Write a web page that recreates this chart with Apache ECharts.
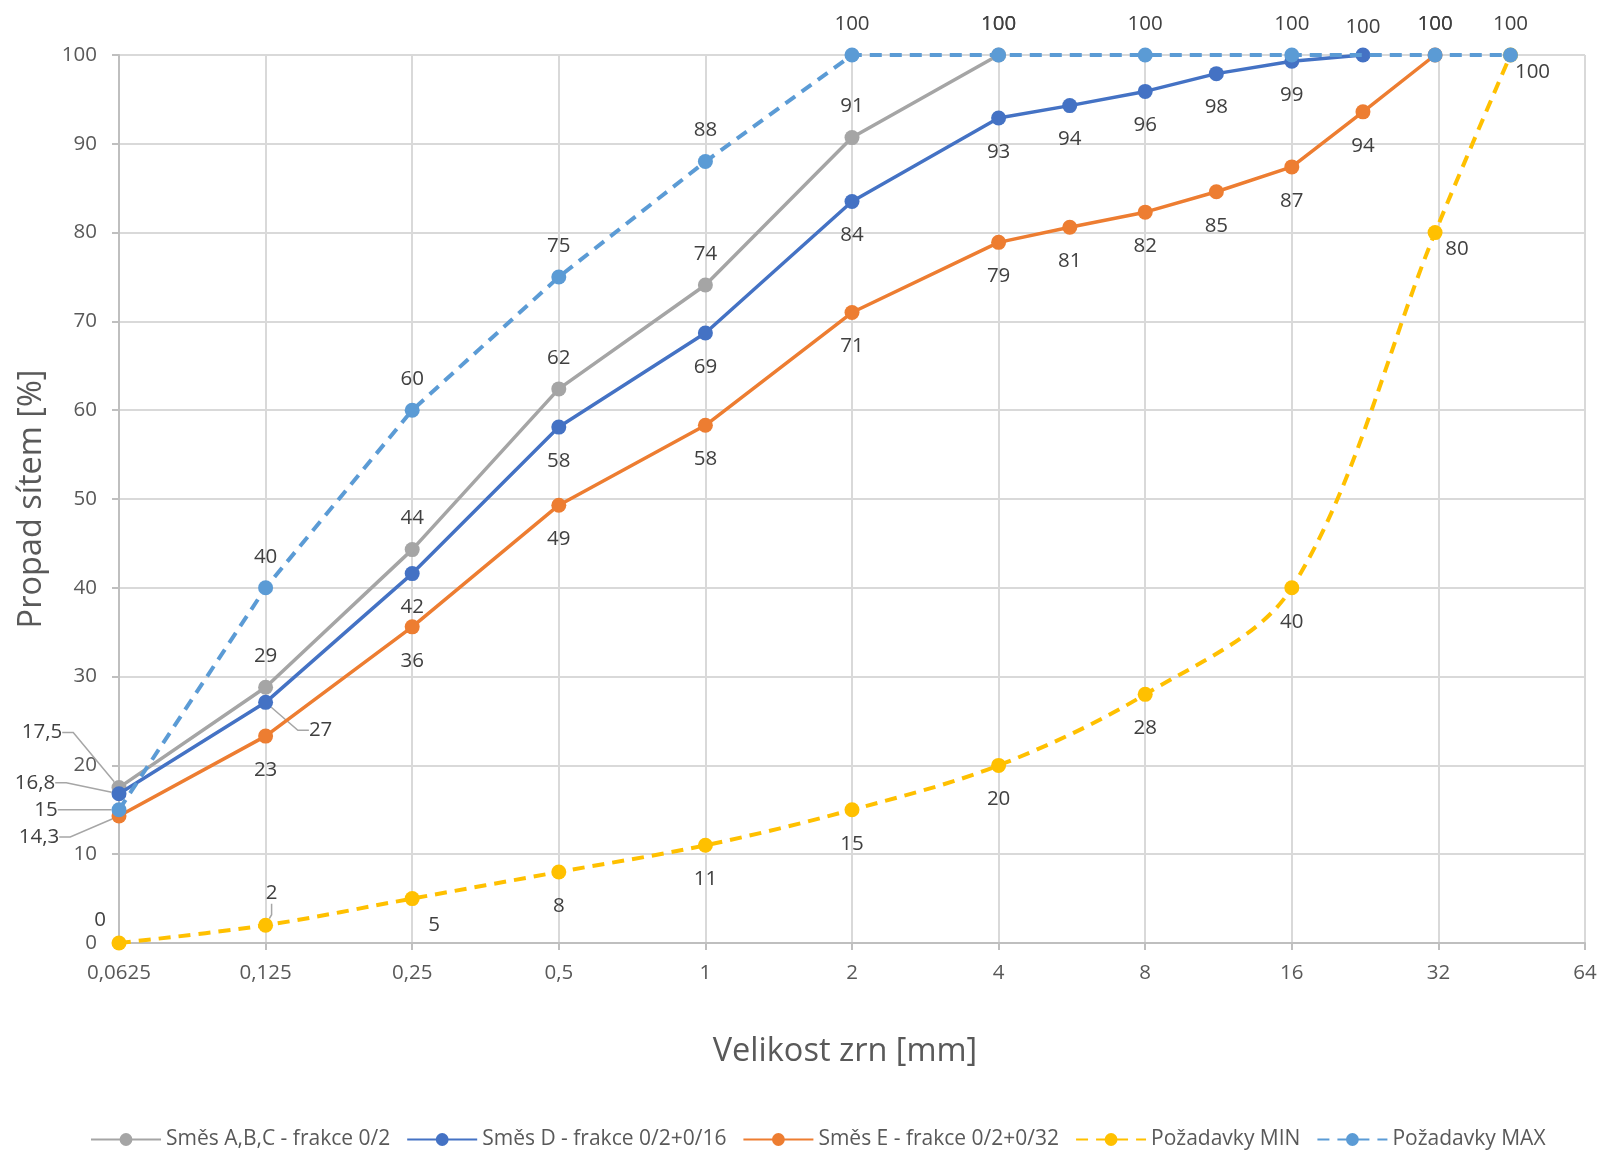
<!DOCTYPE html>
<html>
<head>
<meta charset="utf-8">
<script src="https://cdn.jsdelivr.net/npm/echarts@6/dist/echarts.min.js"></script>
<style>
html,body{margin:0;padding:0;background:#ffffff;}
#chart{width:1602px;height:1151px;}
</style>
</head>
<body>
<div id="chart"></div>
<script>
// ---------- DATA ----------
const seriesNames = ['Směs A,B,C - frakce 0/2', 'Směs D - frakce 0/2+0/16', 'Směs E - frakce 0/2+0/32', 'Požadavky MIN', 'Požadavky MAX'];
const sizesABC = [0.0625, 0.125, 0.25, 0.5, 1, 2, 4];
const valuesABC = [17.5, 28.8, 44.3, 62.4, 74.1, 90.7, 100];
const sizesD = [0.0625, 0.125, 0.25, 0.5, 1, 2, 4, 5.6, 8, 11.2, 16, 22.4];
const valuesD = [16.8, 27.1, 41.6, 58.1, 68.7, 83.5, 92.9, 94.3, 95.9, 97.9, 99.3, 100];
const sizesE = [0.0625, 0.125, 0.25, 0.5, 1, 2, 4, 5.6, 8, 11.2, 16, 22.4, 31.5];
const valuesE = [14.3, 23.3, 35.6, 49.3, 58.3, 71.0, 78.9, 80.6, 82.3, 84.6, 87.4, 93.6, 100];
const sizesReq = [0.0625, 0.125, 0.25, 0.5, 1, 2, 4, 8, 16, 31.5, 45];
const valuesMin = [0, 2, 5, 8, 11, 15, 20, 28, 40, 80, 100];
const valuesMax = [15, 40, 60, 75, 88, 100, 100, 100, 100, 100, 100];
const xAxisTitle = 'Velikost zrn [mm]';
const yAxisTitle = 'Propad sítem [%]';

// ---------- STYLE ----------
const FONT = "'Open Sans', 'Noto Sans', sans-serif";
const colors = ['#A5A5A5', '#4472C4', '#ED7D31', '#FFC000', '#5B9BD5'];
const ABOVE = [0, -31], BELOW = [0, 34];

// label placement per series: default + overrides {idx: [dx, dy, leader]}
const placement = [
  { def: ABOVE, over: { 0: [-77, -55, true] } },
  { def: BELOW, over: { 0: [-84, -11, true], 1: [55, 28, true], 11: [0, -28] } },
  { def: BELOW, over: { 0: [-80, 21, true], 12: [0, -31] } },
  { def: BELOW, over: { 0: [-19, -23], 1: [6, -32, true], 2: [22, 27], 9: [22, 17], 10: [22, 17] } },
  { def: ABOVE, over: { 0: [-73, 0, true] } }
];

function fmtLabel(v, idx) {
  if (idx === 0 && v % 1 !== 0) return v.toFixed(1).replace('.', ',');
  return String(Math.round(v));
}

const rawSets = [
  [sizesABC, valuesABC],
  [sizesD, valuesD],
  [sizesE, valuesE],
  [sizesReq, valuesMin],
  [sizesReq, valuesMax]
];

const series = rawSets.map((pair, si) => {
  const xs = pair[0], ys = pair[1];
  const data = xs.map((x, i) => {
    const p = placement[si].over[i] || placement[si].def;
    const item = { value: [x, ys[i]] };
    if (p[2]) {
      item.labelLine = { show: true, length2: 11, lineStyle: { color: '#A6A6A6', width: 1.5 } };
    }
    return item;
  });
  const dashed = si >= 3;
  return {
    name: seriesNames[si],
    type: 'line',
    data: data,
    smooth: si === 3 ? 0.33 : false,
    symbol: 'circle',
    symbolSize: 15,
    showSymbol: true,
    color: colors[si],
    lineStyle: { color: colors[si], width: dashed ? 4 : 3.5, type: dashed ? [12, 8] : 'solid', cap: 'butt' },
    itemStyle: { color: colors[si] },
    label: {
      show: true,
      position: 'inside',
      fontFamily: FONT,
      fontSize: 20.5,
      color: '#404040',
      formatter: (p) => fmtLabel(p.value[1], p.dataIndex)
    },
    labelLayout: function (params) {
      const p = placement[si].over[params.dataIndex] || placement[si].def;
      if (p[2]) {
        const cx = params.rect.x + params.rect.width / 2;
        const cy = params.rect.y + params.rect.height / 2;
        return { x: cx + p[0], y: cy + p[1], align: 'center', verticalAlign: 'middle' };
      }
      return { dx: p[0], dy: p[1] };
    },
    emphasis: { disabled: true },
    z: 2 + si
  };
});

const chart = echarts.init(document.getElementById('chart'), null, { renderer: 'canvas' });
chart.setOption({
  animation: false,
  backgroundColor: '#ffffff',
  textStyle: { fontFamily: FONT },
  grid: { left: 119, right: 17, top: 55, bottom: 208, containLabel: false },
  legend: {
    data: seriesNames,
    left: 85,
    top: 1124,
    itemWidth: 70,
    itemHeight: 16,
    itemGap: 16,
    textStyle: { fontFamily: FONT, fontSize: 21, color: '#595959' }
  },
  xAxis: {
    type: 'log',
    logBase: 2,
    min: 0.0625,
    max: 64,
    interval: 1,
    splitNumber: 10,
    name: xAxisTitle,
    nameLocation: 'middle',
    nameGap: 92,
    nameTextStyle: { fontFamily: FONT, fontSize: 32.5, color: '#595959', padding: [0, 14, 0, 0] },
    axisLine: { show: true, lineStyle: { color: '#BFBFBF', width: 2 } },
    axisTick: { show: true, length: 7, lineStyle: { color: '#BFBFBF', width: 2 } },
    axisLabel: {
      fontFamily: FONT, fontSize: 20.5, color: '#595959', margin: 20,
      formatter: (v) => String(+Number(v).toPrecision(6)).replace('.', ',')
    },
    splitLine: { show: true, lineStyle: { color: '#D9D9D9', width: 2 } },
    minorTick: { show: false },
    minorSplitLine: { show: false }
  },
  yAxis: {
    type: 'value',
    min: 0,
    max: 100,
    interval: 10,
    name: yAxisTitle,
    nameLocation: 'middle',
    nameGap: 71,
    nameTextStyle: { fontFamily: FONT, fontSize: 32.5, color: '#595959' },
    axisLine: { show: true, lineStyle: { color: '#BFBFBF', width: 2 } },
    axisTick: { show: true, length: 7, lineStyle: { color: '#BFBFBF', width: 2 } },
    axisLabel: { fontFamily: FONT, fontSize: 20.5, color: '#595959', margin: 22 },
    splitLine: { show: true, lineStyle: { color: '#D9D9D9', width: 2 } }
  },
  series: series
});
</script>
</body>
</html>
